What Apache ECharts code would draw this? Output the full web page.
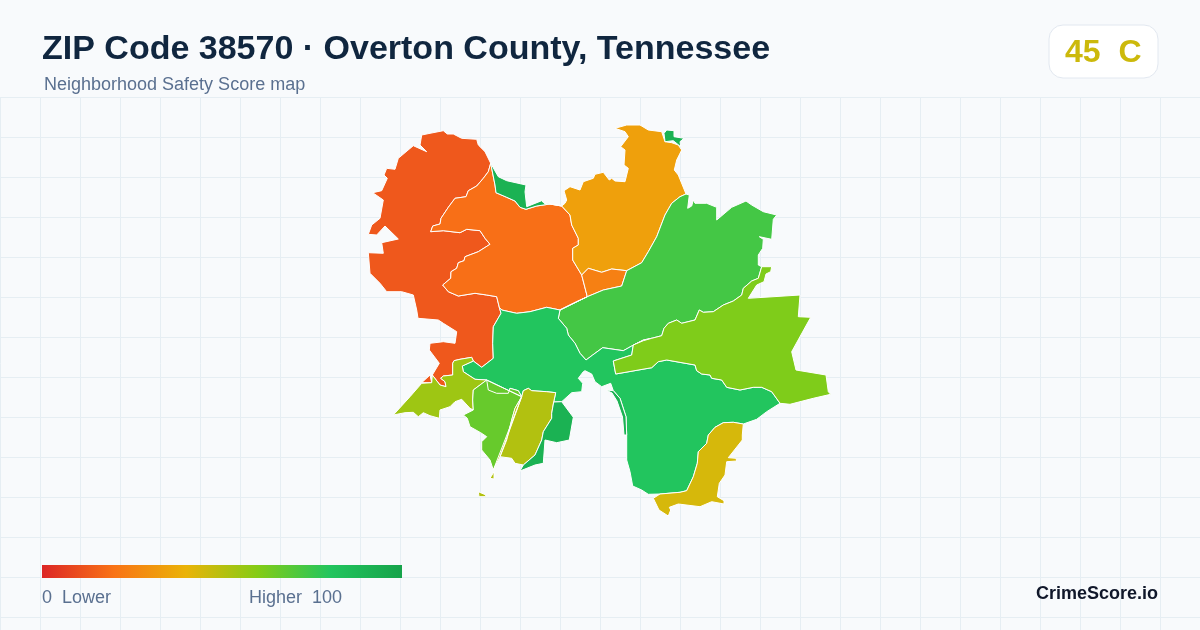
<!DOCTYPE html>
<html><head><meta charset="utf-8">
<style>html,body{margin:0;padding:0;background:#f8fafc}#c{width:1200px;height:630px}</style>
<script src="https://cdn.jsdelivr.net/npm/echarts@6/dist/echarts.min.js"></script>
</head><body><div id="c"></div>
<script>
// Values
const titleText = 'ZIP Code 38570 · Overton County, Tennessee';
const subtitleText = 'Neighborhood Safety Score map';
const gradeText = '45  C';
const brandText = 'CrimeScore.io';
const legendLow = '0  Lower';
const legendHigh = 'Higher  100';
const scaleColors = ['#dc2626','#f97316','#eab308','#84cc16','#22c55e','#16a34a'];
const regionNames  = ['West','Central','NorthPocket','North','MidPocket','Northeast','Middle','East','Southwest','SouthLeft','SouthMid','SouthPocket','Southeast'];
const regionScores = [13,19,91,34,24,73,80,61,55,66,51,91,44];

// Traced boundaries (shared edges so neighbouring regions meet exactly)
const eAB=[[490.7,163.3],[488.3,171.7],[483.3,178.3],[476.7,186],[468.3,190.7],[466,196.7],[455,198.3],[448.3,207.3],[441,218.3],[440,224],[432.7,226],[430.7,231.7],[443.3,230.7],[460,232.7],[466.7,229.3],[480,230.7],[485,238.3],[490,244.3],[478.3,251.7],[465,256.7],[464,260.7],[458.3,262.7],[456.7,268.3],[451,271.7],[450.7,278.3],[442.7,285],[448.3,291.7],[458.3,296],[475,293.3],[486.7,295],[496.7,296.7],[499.3,307.3]];
const eAG=[[499.3,307.3],[501,313.3],[493.3,326.7],[492.7,343.3],[493.3,358.3],[481.7,367.3],[473.3,361]];
const eAH=[[473.3,361],[471.7,357.3],[460,359.3],[454,360.7],[452.7,363.3],[452.7,375],[443.3,376],[440.7,378.3],[445,381.7],[446,386.7],[440,385],[432.3,375]];
const outA=[[432.3,375],[439.3,363.3],[429.3,350],[430,343.3],[443.3,341.7],[455,343.3],[456.7,331.7],[443.3,323.3],[438.3,320],[418,318.3],[416.7,310],[413.3,295],[401.7,291.7],[386.7,291.7],[380,283.3],[370,273.3],[368.3,252.7],[383.3,253.3],[381.7,242.7],[398.3,239],[385,226],[376.7,235],[368.3,234.3],[371.7,225],[380,218.3],[383.3,200],[372.7,192.7],[381.7,190.7],[387.3,178.3],[384,175],[386.7,168.3],[395,169.3],[398.3,158.3],[413.3,145.7],[426.7,151.7],[420,145],[421.7,135],[430,133.3],[443.3,130.7],[447.3,134],[453.3,134],[461.7,138.3],[476.7,139.3],[478.3,145],[485,151.7],[490.7,163.3]];
const redChip=[[421.7,382.7],[430,375],[431.7,382.7]];
const eBG=[[499.3,307.3],[501.7,310],[516.7,313.3],[530,311.7],[546.7,307.3],[560,310]];
const eBF=[[560,310],[576.7,301.7],[587.3,296.7]];
const eBE=[[587.3,296.7],[581.7,275]];
const eBD=[[581.7,275],[572.7,260],[572.7,248.3],[578.3,245],[578.3,238.3],[571.7,225],[570,215],[561.7,206]];
const eBC=[[561.7,206],[550,204],[536.7,206],[526,209.3],[520,207.3],[515,201],[506.7,197.3],[496,192.7],[495,185],[490.7,163.3]];
const outC=[[490.7,163.3],[498.3,176.7],[506.7,180.7],[526,185],[525,191.7],[526.7,206.7],[541.7,200.7],[544,203.3],[550,204]];
const eDE=[[581.7,275],[588.3,268.3],[601.7,272.3],[611.7,269],[626.7,270.7]];
const eDF=[[626.7,270.7],[641.7,262.7],[648.3,251.7],[656.7,236.7],[665,215],[671.7,203.3],[680,196.7],[686,194]];
const outD=[[686,194],[678.3,175],[674.3,170],[676.7,160],[681.7,150],[678.3,145],[671.7,142.7],[665,141.7],[661.7,131.7],[648.3,130],[640,125],[626.7,125],[615,128.3],[625,131.7],[628.3,136.7],[620.7,146.7],[625,150],[624,165],[628.3,168.3],[625,181.7],[615,181],[611.7,178.3],[609.3,180],[603.3,172.3],[595,174.3],[593.3,178.3],[583.3,181.7],[580,190],[570,186.7],[564,190.7],[566.7,200],[565,203.3],[561.7,206]];
const eEF=[[626.7,270.7],[621.7,286],[603.3,290],[587.3,296.7]];
const eFG=[[560,310],[558.3,318.3],[566.7,328.3],[568.3,335],[575,343.3],[580,353.3],[586,360],[592.7,355],[602.7,347.7],[623.3,350.7],[631.7,346],[643.3,340],[651.7,338.3]];
const eFL=[[651.7,338.3],[661.7,335.7],[664,328.3],[668.3,323.3],[676.7,320],[681.7,323.3],[695,320],[699.3,310],[703.3,312.3],[713.3,311.7],[723.3,305],[733.3,301],[741.7,295],[743.3,288.3],[751.7,281],[758.3,278.3],[761.7,266.7]];
const outF=[[761.7,266.7],[758.3,265],[758.3,255],[762.7,248.3],[763.3,239.3],[759.3,236.7],[771.7,239.3],[773.3,219.3],[776.7,215],[763.3,211.7],[751.7,205],[746,201],[731.7,207.3],[716.7,220],[716.7,207.3],[706.7,203.3],[695,203.3],[693.3,200],[691.7,206],[687.7,208.3],[689.3,195],[686,194]];
const eGL=[[651.7,338.3],[643.3,340.7],[633.3,345],[631.7,355],[613.3,361],[615.7,374],[651.7,367.7],[658.3,361.7],[666.7,360],[695,365],[696.7,370.7],[701.7,374],[710,375],[711.7,378.3],[721.7,380],[726.7,387.3],[740,390],[753.3,387.3],[761.7,387.3],[771.7,391.7],[780,403.3]];
const outG1=[[780,403.3],[766.7,411.7],[756.7,419.3],[743.3,424]];
const eGM=[[743.3,424],[733.3,422.3],[723.3,422.7],[715,427.3],[708.3,435],[706.7,443.3],[698.3,451.7],[697.3,463.3],[693.3,476.7],[686.7,490.7],[680,492.3],[660,494]];
const outG2=[[660,494],[648.3,494.3],[641.7,490],[632.7,486],[630,471.7],[626.7,460],[626.7,435],[626,416.7],[620,398.3],[613.3,390.7],[610.7,383.3],[601.7,386.7],[595,381.7],[591.7,374],[585,370.7],[583.3,371.7],[578.3,378.3],[582.7,383.3],[581.7,391.7],[571.7,392.7],[561.7,401.7]];
const eGK=[[561.7,401.7],[553.7,402]];
const eGJ=[[553.7,402],[555.7,392.7],[546.7,391.7],[531.7,390.7],[528.3,388.3],[523.3,390.7],[521.7,396.7]];
const eGI=[[521.7,396.7],[518.3,390.7],[510,388.3],[508.3,393.3],[496.7,393.3],[488.3,390],[486.7,380]];
const eGH=[[486.7,380],[475,379.3],[463.3,371.7],[462.3,366],[473.3,361]];
const outL=[[761.7,266.7],[771.7,266.7],[770.7,271.7],[766,274],[764,281.7],[756.7,285],[748.3,298.3],[800,295],[798.3,316.7],[810.7,317.3],[791.7,351.7],[796,370],[826,375],[828.3,391.7],[830.7,394.3],[813.3,398.3],[790,404.3],[780,403.3]];
const eHI=[[486.7,380],[480,385],[473.3,390],[472.7,400],[473.3,410]];
const outH=[[473.3,410],[470,408.3],[461.7,399.3],[455,401.7],[450,406.7],[440,410],[439.3,418.3],[430,415.7],[423.3,412.7],[418.3,416.7],[413.3,412.3],[405,412.7],[393.3,415],[410,396.7],[421.7,383.3],[431.7,382.7],[432.3,375]];
const outI=[[473.3,410],[463.3,415],[467.3,418.3],[470,426.7],[480.7,432.7],[486.7,436.7],[481.7,441.7],[481.7,450],[490,460],[493.3,470]];
const eIJ=[[493.3,470],[500,456.7],[506.7,440],[511.7,420],[515,408.3],[521.7,396.7]];
const eJK=[[553.7,402],[551.7,413.3],[551.7,418.3],[543.3,431.7],[541.7,440],[535,455],[523.3,465]];
const outJ=[[523.3,465],[515,463.3],[511.7,458.3],[500,456.7]];
const outK=[[561.7,401.7],[573.3,417.3],[569.3,440],[556.7,442.7],[545,440],[543.3,463.3],[535,465],[520,471],[523.3,465]];
const outM=[[660,494],[653.3,498.3],[659,510],[668.3,516],[670.7,510],[669.3,507.3],[678.3,504],[700,506.7],[711.7,501.7],[724,504],[724,500.7],[717.3,496.7],[719.3,483.3],[725,475],[726.7,461.7],[736.7,461],[736,458.3],[728.3,457.7],[742.3,440],[742.3,435],[743.3,424]];
const northTip=[[664,133.3],[666.7,130],[674,130.7],[674,136.7],[684,138.3],[680,141.7],[680.7,146.7],[673.3,140.7],[665,141.7]];
const sliver=[[606,390],[613.3,390.7],[620,398.3],[626,416.7],[626.7,435],[624,435],[622.5,417],[617,401],[612,393]];
const chip1=[[490,478.3],[494,471.7],[494,479]];
const chip2=[[478.3,491.7],[486,495],[485,496.7],[479,496.7]];

const rev=a=>a.slice().reverse();
const join=(...p)=>{const o=[];p.forEach(e=>e.forEach(q=>o.push(q)));return o;};
const shapes=[
 [join(outA,eAB,eAG,eAH),redChip],
 [join(eAB,eBG,eBF,eBE,eBD,eBC)],
 [join(outC,eBC)],
 [join(eBD,rev(outD),rev(eDF),rev(eDE))],
 [join(eDE,eEF,eBE)],
 [join(rev(eFG),rev(eBF),rev(eEF),eDF,rev(outF),rev(eFL))],
 [join(eBG,eFG,eGL,outG1,eGM,outG2,eGK,eGJ,eGI,eGH,rev(eAG))],
 [join(eFL,outL,rev(eGL))],
 [join(rev(eAH),rev(eGH),eHI,outH)],
 [join(rev(eGI),eHI,outI,eIJ)],
 [join(rev(eGJ),eJK,outJ,rev(eIJ)),chip1,chip2],
 [join(eGK,eJK,rev(outK)),northTip,sliver],
 [join(eGM,outM)]
];
const geojson={type:'FeatureCollection',features:regionNames.map((n,i)=>({type:'Feature',properties:{name:n},geometry:{type:'Polygon',coordinates:[shapes[i][0]]}}))};
geojson.features.forEach((f,i)=>{ if(shapes[i].length>1){f.geometry={type:'MultiPolygon',coordinates:shapes[i].map(r=>[r])};}});
let x0=1e9,x1=-1e9,y0=1e9,y1=-1e9;
shapes.forEach(s=>s.forEach(r=>r.forEach(([x,y])=>{x0=Math.min(x0,x);x1=Math.max(x1,x);y0=Math.min(y0,y);y1=Math.max(y1,y);})));
echarts.registerMap('zip38570',geojson);

const chart=echarts.init(document.getElementById('c'),null,{renderer:'canvas'});
const font='"Liberation Sans",Arial,sans-serif';
chart.setOption({
 animation:false,
 backgroundColor:'#f8fafc',
 title:[
  {text:titleText,left:42,top:33,padding:0,textStyle:{fontFamily:font,fontSize:34,fontWeight:'bold',color:'#10263f'}},
  {text:subtitleText,left:44,top:76,padding:0,textStyle:{fontFamily:font,fontSize:18,fontWeight:'normal',color:'#5a7090'}},
  {text:legendLow,left:42,top:589,padding:0,textStyle:{fontFamily:font,fontSize:18,fontWeight:'normal',color:'#5a7090'}},
  {text:legendHigh,left:249,top:589,padding:0,textStyle:{fontFamily:font,fontSize:18,fontWeight:'normal',color:'#5a7090'}},
  {text:brandText,right:42,top:585,padding:0,textStyle:{fontFamily:font,fontSize:18,fontWeight:'bold',color:'#10172a'}}
 ],
 grid:{left:0,top:97,width:1200,height:533,show:false},
 xAxis:{type:'value',min:0,max:1200,interval:40,axisLine:{show:false},axisTick:{show:false},axisLabel:{show:false},splitLine:{show:true,lineStyle:{color:'#e6eef3',width:1}}},
 yAxis:{type:'value',min:0,max:533,interval:40,inverse:true,axisLine:{show:false},axisTick:{show:false},axisLabel:{show:false},splitLine:{show:true,lineStyle:{color:'#e6eef3',width:1}}},
 visualMap:{type:'continuous',show:false,min:0,max:100,seriesIndex:0,inRange:{color:scaleColors}},
 series:[{
  type:'map',map:'zip38570',roam:false,silent:true,selectedMode:false,
  projection:{project:p=>p,unproject:p=>p},
  left:x0,top:y0,width:x1-x0,height:y1-y0,
  label:{show:false},emphasis:{disabled:true},
  itemStyle:{borderColor:'#ffffff',borderWidth:1},
  data:regionNames.map((n,i)=>({name:n,value:regionScores[i]}))
 }],
 graphic:[
  {type:'rect',left:1048.5,top:24.5,shape:{width:109,height:53,r:14},style:{fill:'#ffffff',stroke:'#e2e8f0',lineWidth:1},z:5},
  {type:'text',left:1065,top:37,style:{text:gradeText,fontFamily:font,fontSize:32,fontWeight:'bold',fill:'#ccb90b'},z:6},
  {type:'rect',left:42,top:565,shape:{width:360,height:13},z:5,
   style:{fill:new echarts.graphic.LinearGradient(0,0,1,0,scaleColors.map((c,i)=>({offset:i/(scaleColors.length-1),color:c})))}}
 ]
});
</script></body></html>
